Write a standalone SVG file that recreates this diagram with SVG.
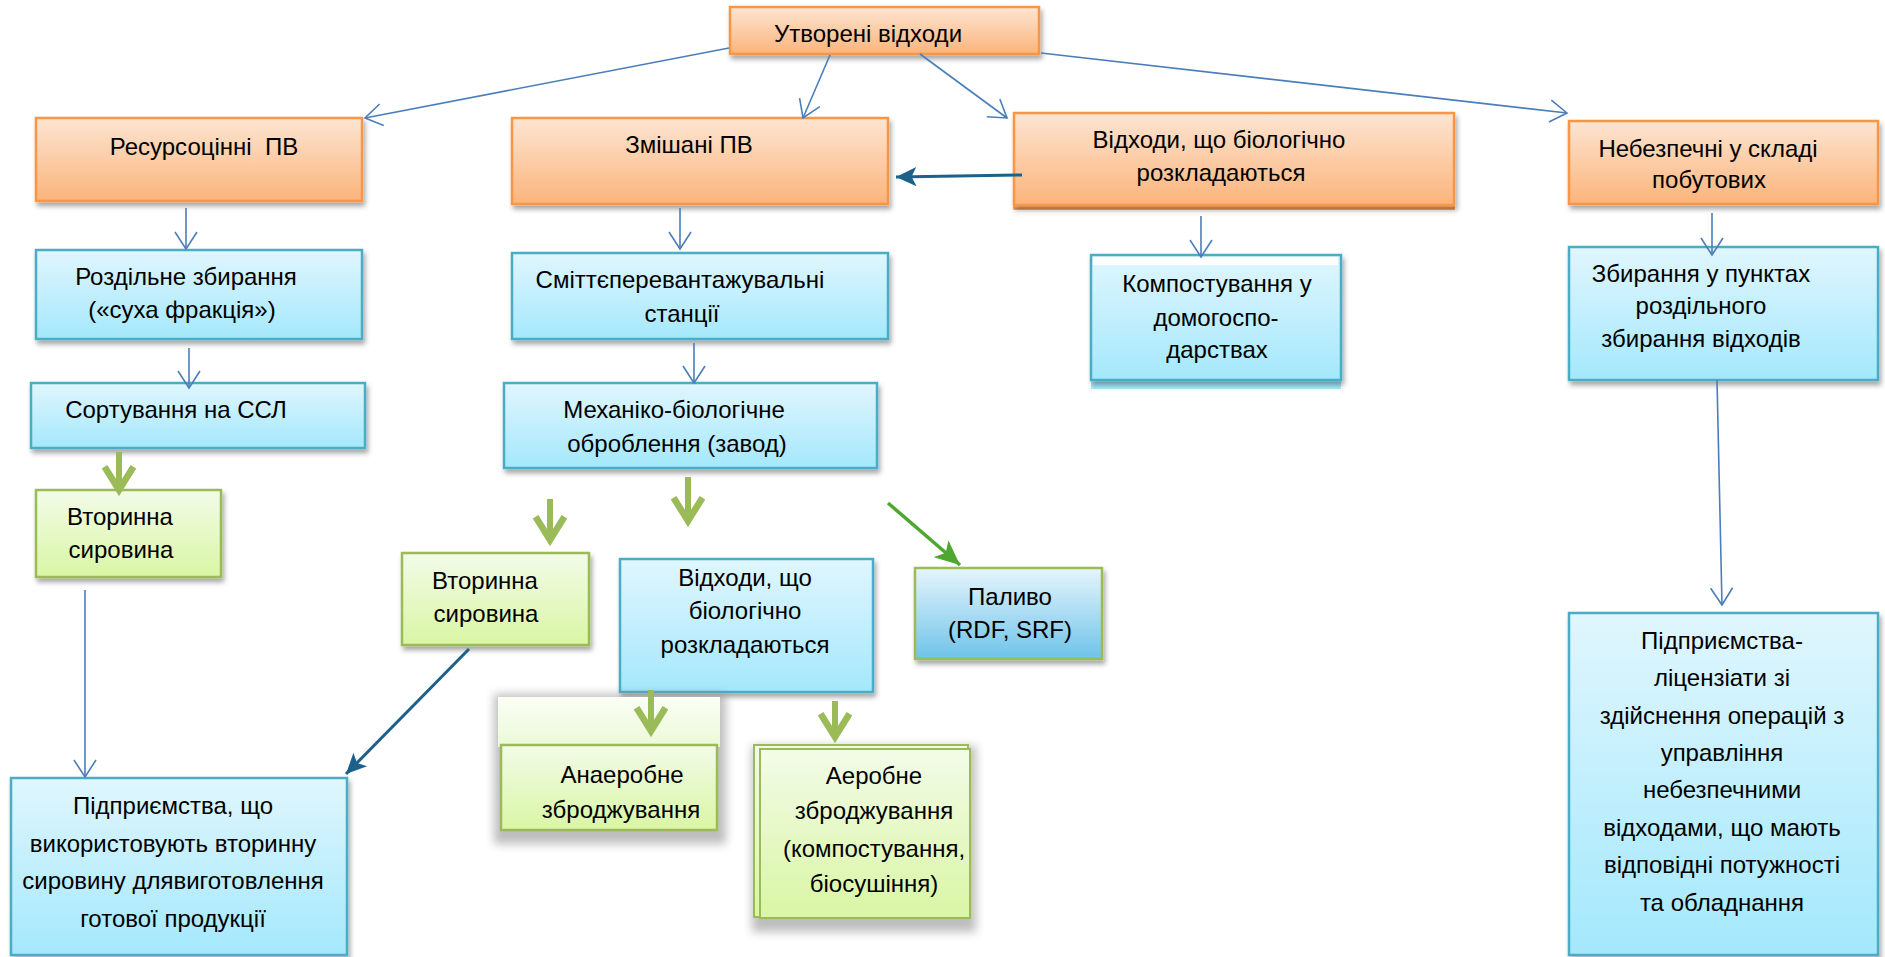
<svg xmlns="http://www.w3.org/2000/svg" width="1885" height="957" viewBox="0 0 1885 957">
<defs>
<linearGradient id="gOr" x1="0" y1="0" x2="0" y2="1"><stop offset="0" stop-color="#fde5d2"/><stop offset="1" stop-color="#fbb47b"/></linearGradient>
<linearGradient id="gBl" x1="0" y1="0" x2="0" y2="1"><stop offset="0" stop-color="#e0f6fd"/><stop offset="1" stop-color="#a4e8fc"/></linearGradient>
<linearGradient id="gGr" x1="0" y1="0" x2="0" y2="1"><stop offset="0" stop-color="#f3fbe8"/><stop offset="1" stop-color="#d9f6a4"/></linearGradient>
<linearGradient id="gGrTop" x1="0" y1="0" x2="0" y2="1"><stop offset="0" stop-color="#fbfff5"/><stop offset="1" stop-color="#ebf9d8"/></linearGradient>
<linearGradient id="gPal" x1="0" y1="0" x2="0" y2="1"><stop offset="0" stop-color="#e6f5fb"/><stop offset="1" stop-color="#6ec3ea"/></linearGradient>
<filter id="sh" x="-10%" y="-10%" width="125%" height="135%"><feDropShadow dx="2" dy="4" stdDeviation="2.5" flood-color="#000" flood-opacity="0.35"/></filter>
<filter id="bigsh" x="-20%" y="-20%" width="140%" height="150%"><feGaussianBlur stdDeviation="5"/></filter>
<marker id="mOpen" markerUnits="userSpaceOnUse" markerWidth="30" markerHeight="30" viewBox="-20 -15 22 30" refX="0" refY="0" orient="auto"><path d="M-17,-11 L0,0 L-17,11" fill="none" stroke="#4a7ebb" stroke-width="1.6"/></marker>
<marker id="mDark" markerUnits="userSpaceOnUse" markerWidth="24" markerHeight="24" viewBox="-18 -10 20 20" refX="0" refY="0" orient="auto"><path d="M-17,-8 L0,0 L-17,8 L-13,0 Z" fill="#1b6189"/></marker>
<marker id="mGreen" markerUnits="userSpaceOnUse" markerWidth="40" markerHeight="40" viewBox="-26 -18 30 36" refX="0" refY="0" orient="auto"><path d="M-21,-13 L0,0 L-21,13" fill="none" stroke="#9bbb59" stroke-width="6" stroke-linejoin="miter"/></marker>
<marker id="mGreen2" markerUnits="userSpaceOnUse" markerWidth="30" markerHeight="30" viewBox="-22 -12 24 24" refX="0" refY="0" orient="auto"><path d="M-20,-9 L0,0 L-20,9 L-15,0 Z" fill="#4ea72e"/></marker>
</defs>
<style>
text{font-family:"Liberation Sans",Arial,sans-serif;font-size:24px;fill:#000;text-anchor:middle}
.or{fill:url(#gOr);stroke:#f79646;stroke-width:2.5;filter:url(#sh)}
.bl{fill:url(#gBl);stroke:#4bacc6;stroke-width:2.5;filter:url(#sh)}
.gr{fill:url(#gGr);stroke:#9bbb59;stroke-width:2.5;filter:url(#sh)}
.pal{fill:url(#gPal);stroke:#9bbb59;stroke-width:2.5;filter:url(#sh)}
.thin{fill:none;stroke:#4a7ebb;stroke-width:1.6;marker-end:url(#mOpen)}
.dark{fill:none;stroke:#1b6189;stroke-width:3;marker-end:url(#mDark)}
.gth{fill:none;stroke:#9bbb59;stroke-width:6;marker-end:url(#mGreen)}
.gdi{fill:none;stroke:#4ea72e;stroke-width:3.5;marker-end:url(#mGreen2)}
</style>
<rect width="1885" height="957" fill="#fff"/>

<g id="n-utvoreni"><rect class="or" x="730" y="7" width="309" height="47"/><text x="868" y="42">Утворені відходи</text></g>
<g id="n-resurs"><rect class="or" x="36" y="118" width="326" height="83"/><text x="204" y="155" style="white-space:pre">Ресурсоцінні  ПВ</text></g>
<g id="n-zmishani"><rect class="or" x="512" y="118" width="376" height="86"/><text x="689" y="153">Змішані ПВ</text></g>
<g id="n-bio-orange"><rect x="1014" y="200" width="440" height="9" fill="#fbb47b" stroke="#f79646" stroke-width="1.5"/><rect class="or" x="1014" y="113" width="440" height="92"/><text x="1219" y="148">Відходи, що біологічно</text><text x="1221" y="181">розкладаються</text></g>
<g id="n-nebezpechni"><rect class="or" x="1569" y="121" width="309" height="83"/><text x="1708" y="157">Небезпечні у складі</text><text x="1709" y="188">побутових</text></g>

<g id="n-rozdilne"><rect class="bl" x="36" y="250" width="326" height="89"/><text x="186" y="285">Роздільне збирання</text><text x="182" y="318">(«суха фракція»)</text></g>
<g id="n-smittie"><rect class="bl" x="512" y="253" width="376" height="86"/><text x="680" y="288">Сміттєперевантажувальні</text><text x="682" y="322">станції</text></g>
<g id="n-sortuvannia"><rect class="bl" x="31" y="383" width="334" height="65"/><text x="176" y="418">Сортування на ССЛ</text></g>
<g id="n-mbo"><rect class="bl" x="504" y="383" width="373" height="85"/><text x="674" y="418">Механіко-біологічне</text><text x="677" y="452">оброблення (завод)</text></g>
<g id="n-kompost"><rect x="1091" y="380" width="250" height="9" fill="#a6e9fc"/><rect class="bl" x="1091" y="255" width="250" height="125"/><rect x="1093" y="257" width="245" height="8" fill="#fff"/><text x="1217" y="292">Компостування у</text><text x="1216" y="326">домогоспо-</text><text x="1217" y="358">дарствах</text></g>
<g id="n-zbyrannia"><rect class="bl" x="1569" y="247" width="309" height="133"/><text x="1701" y="282">Збирання у пунктах</text><text x="1701" y="314">роздільного</text><text x="1701" y="347">збирання відходів</text></g>

<g id="n-vtorynna1"><rect class="gr" x="36" y="490" width="185" height="87"/><text x="120" y="525">Вторинна</text><text x="121" y="558">сировина</text></g>
<g id="n-vtorynna2"><rect class="gr" x="402" y="553" width="187" height="92"/><text x="485" y="589">Вторинна</text><text x="486" y="622">сировина</text></g>
<g id="n-bio-blue"><rect class="bl" x="620" y="559" width="253" height="133"/><text x="745" y="586">Відходи, що</text><text x="745" y="619">біологічно</text><text x="745" y="653">розкладаються</text></g>
<g id="n-palyvo"><rect class="pal" x="915" y="568" width="187" height="91"/><text x="1010" y="605">Паливо</text><text x="1010" y="638">(RDF, SRF)</text></g>

<g id="n-anaerob"><rect x="494" y="694" width="232" height="150" fill="#888" opacity="0.55" filter="url(#bigsh)"/><rect x="498" y="697" width="222" height="50" fill="url(#gGrTop)"/><rect x="501" y="745" width="216" height="85" fill="url(#gGr)" stroke="#9bbb59" stroke-width="2.5"/><text x="622" y="783">Анаеробне</text><text x="621" y="818">зброджування</text></g>
<g id="n-aerob"><rect x="752" y="746" width="224" height="186" fill="#888" opacity="0.55" filter="url(#bigsh)"/><rect x="754" y="745" width="214" height="172" fill="url(#gGr)" stroke="#9bbb59" stroke-width="2"/><rect x="760" y="749" width="210" height="169" fill="url(#gGr)" stroke="#9bbb59" stroke-width="2"/><text x="874" y="784">Аеробне</text><text x="874" y="819">зброджування</text><text x="874" y="857">(компостування,</text><text x="874" y="892">біосушіння)</text></g>

<g id="n-pidpr-vtor"><rect class="bl" x="11" y="778" width="336" height="177"/><text x="173" y="814">Підприємства, що</text><text x="173" y="852">використовують вторинну</text><text x="173" y="889">сировину длявиготовлення</text><text x="173" y="927">готової продукції</text></g>
<g id="n-pidpr-lic"><rect class="bl" x="1569" y="613" width="309" height="342"/><text x="1722" y="649">Підприємства-</text><text x="1722" y="686">ліцензіати зі</text><text x="1722" y="724">здійснення операцій з</text><text x="1722" y="761">управління</text><text x="1722" y="798">небезпечними</text><text x="1722" y="836">відходами, що мають</text><text x="1722" y="873">відповідні потужності</text><text x="1722" y="911">та обладнання</text></g>

<g id="connectors">
<line class="thin" x1="729" y1="48" x2="365" y2="118"/>
<line class="thin" x1="830" y1="55" x2="803" y2="118"/>
<line class="thin" x1="920" y1="54" x2="1007" y2="118"/>
<line class="thin" x1="1041" y1="53" x2="1567" y2="113"/>
<line class="thin" x1="186" y1="208" x2="186" y2="249"/>
<line class="thin" x1="189" y1="348" x2="189" y2="388"/>
<line class="thin" x1="680" y1="208" x2="680" y2="249"/>
<line class="thin" x1="694" y1="343" x2="694" y2="383"/>
<line class="thin" x1="1201" y1="216" x2="1201" y2="257"/>
<line class="thin" x1="1712" y1="213" x2="1712" y2="255"/>
<line class="thin" x1="1717" y1="380" x2="1722" y2="605"/>
<line class="thin" x1="85" y1="590" x2="85" y2="777"/>
<line class="dark" x1="1022" y1="175" x2="896" y2="177"/>
<line class="dark" x1="469" y1="649" x2="346" y2="774"/>
<line class="gth" x1="119" y1="452" x2="119" y2="490"/>
<line class="gth" x1="550" y1="499" x2="550" y2="540"/>
<line class="gth" x1="688" y1="477" x2="688" y2="521"/>
<line class="gth" x1="651" y1="690" x2="651" y2="731"/>
<line class="gth" x1="835" y1="701" x2="835" y2="737"/>
<line class="gdi" x1="888" y1="503" x2="960" y2="565"/>
</g>
</svg>
